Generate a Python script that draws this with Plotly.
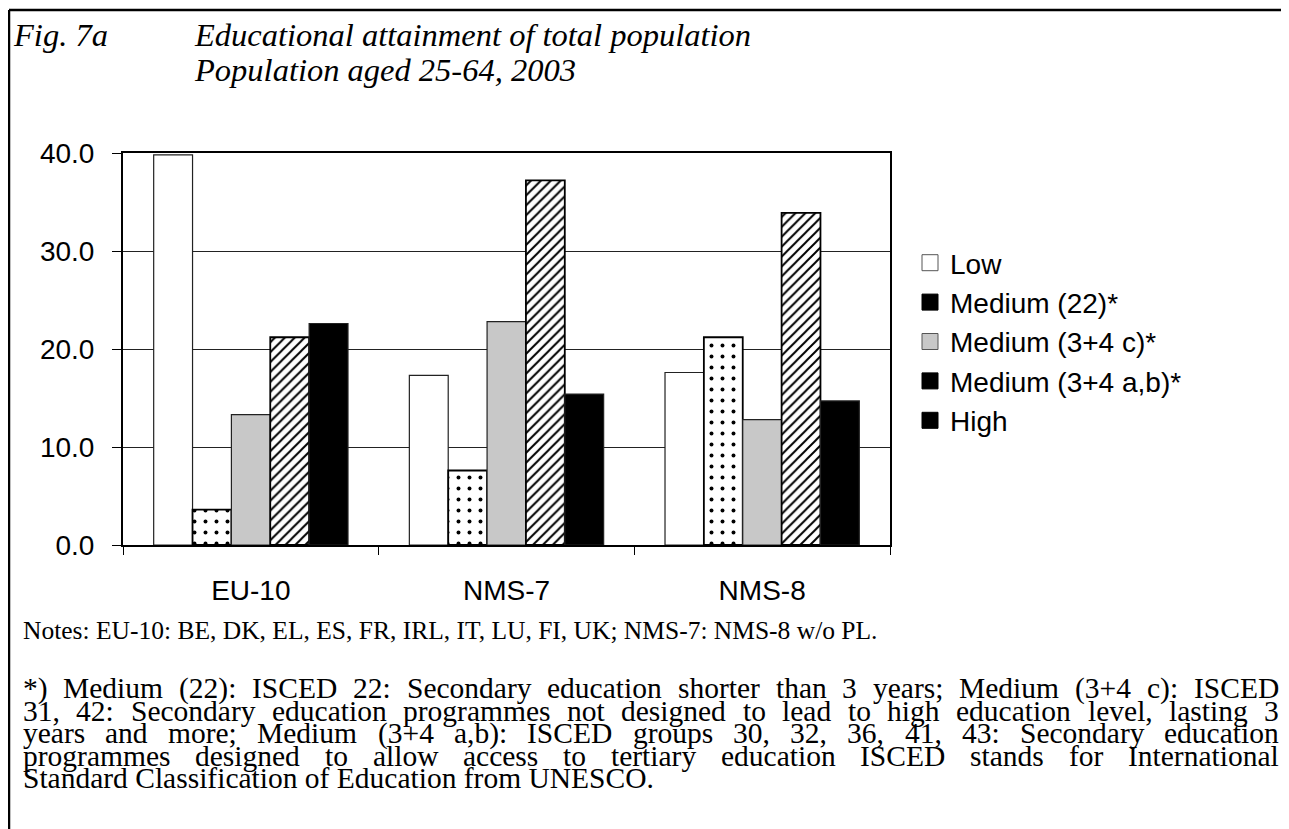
import plotly.graph_objects as go

# data
regions = ["EU-10", "NMS-7", "NMS-8"]
low = [39.8, 17.3, 17.6]
medium_22 = [3.6, 7.6, 21.2]
medium_34c = [13.3, 22.8, 12.8]
medium_34ab = [21.2, 37.2, 33.9]
high = [22.6, 15.4, 14.7]

series_names = ["Low", "Medium (22)*", "Medium (3+4 c)*", "Medium (3+4 a,b)*", "High"]
y_ticks = [0, 10, 20, 30, 40]

notes_text = "Notes: EU-10: BE, DK, EL, ES, FR, IRL, IT, LU, FI, UK; NMS-7: NMS-8 w/o PL."
footnote_lines = [
    "*) Medium (22): ISCED 22: Secondary education shorter than 3 years; Medium (3+4 c): ISCED",
    "31, 42: Secondary education programmes not designed to lead to high education level, lasting 3",
    "years and more; Medium (3+4 a,b): ISCED groups 30, 32, 36, 41, 43: Secondary education",
    "programmes designed to allow access to tertiary education ISCED stands for International",
    "Standard Classification of Education from UNESCO.",
]

# the page body adds an 8px margin, so page coordinates are shifted by OFF
OFF = 8
W, H = 1289 - OFF, 829 - OFF
ML, MR, MT, MB = 123 - OFF, 399, 153 - OFF, 284


def px_x(px):
    return (px - OFF - ML) / (W - ML - MR)


def px_y(py):
    return (H - MB - (py - OFF)) / (H - MT - MB)


# Times / Liberation Serif advance widths (1/1000 em), used to justify the footnote
TIMES = {" ": 250, ",": 250, ".": 250, ":": 278, ";": 278, "(": 333, ")": 333,
         "*": 500, "+": 564, "-": 333, "/": 278,
         "a": 444, "b": 500, "c": 444, "d": 500, "e": 444, "f": 333, "g": 500,
         "h": 500, "i": 278, "j": 278, "k": 500, "l": 278, "m": 778, "n": 500,
         "o": 500, "p": 500, "q": 500, "r": 333, "s": 389, "t": 278, "u": 500,
         "v": 500, "w": 722, "x": 500, "y": 500, "z": 444,
         "A": 722, "B": 667, "C": 667, "D": 722, "E": 611, "F": 556, "G": 722,
         "H": 722, "I": 333, "J": 389, "K": 722, "L": 611, "M": 889, "N": 722,
         "O": 722, "P": 556, "Q": 722, "R": 667, "S": 556, "T": 611, "U": 722,
         "V": 722, "W": 944, "X": 722, "Y": 722, "Z": 611}


def text_width(s, size):
    return sum(TIMES.get(c, 500) for c in s) / 1000 * size


fig = go.Figure()

bar_line = dict(color="#222222", width=1.2)
fig.add_trace(go.Bar(x=regions, y=low, name=series_names[0], showlegend=False,
                     marker=dict(color="white", line=bar_line)))
fig.add_trace(go.Bar(x=regions, y=medium_22, name=series_names[1], showlegend=False,
                     marker=dict(color="white", line=dict(color="black", width=1.8),
                                 pattern=dict(shape=".", fgcolor="black", bgcolor="white",
                                              size=11, solidity=0.1, fillmode="replace"))))
fig.add_trace(go.Bar(x=regions, y=medium_34c, name=series_names[2], showlegend=False,
                     marker=dict(color="#c8c8c8", line=bar_line)))
fig.add_trace(go.Bar(x=regions, y=medium_34ab, name=series_names[3], showlegend=False,
                     marker=dict(color="white", line=dict(color="black", width=1.8),
                                 pattern=dict(shape="/", fgcolor="black", bgcolor="white",
                                              size=7, solidity=0.28, fillmode="replace"))))
fig.add_trace(go.Bar(x=regions, y=high, name=series_names[4], showlegend=False,
                     marker=dict(color="black", line=bar_line)))

# legend keys drawn as plain squares, as in the original
legend_fill = ["white", "black", "#c8c8c8", "black", "black"]
legend_edge = ["#555555", "black", "#555555", "black", "black"]
for name, fc, ec in zip(series_names, legend_fill, legend_edge):
    fig.add_trace(go.Scatter(x=[None], y=[None], mode="markers", name=name,
                             legendgroup=name,
                             marker=dict(symbol="square", size=16, color=fc,
                                         line=dict(color=ec, width=1))))

axis_font = dict(family="Liberation Sans, Arial", size=28, color="black")

fig.update_layout(
    width=W,
    height=H,
    margin=dict(l=ML, r=MR, t=MT, b=MB, autoexpand=False),
    paper_bgcolor="white",
    plot_bgcolor="white",
    barmode="group",
    bargap=0.24,
    bargroupgap=0,
    font=axis_font,
    legend=dict(x=px_x(910), y=px_y(238), xanchor="left", yanchor="top",
                font=axis_font, tracegroupgap=0, itemwidth=30,
                bgcolor="rgba(0,0,0,0)"),
    xaxis=dict(showline=True, linecolor="black", linewidth=1.5, mirror=True,
               ticks="outside", tickson="boundaries", ticklen=8, tickcolor="black",
               tickfont=axis_font, ticklabelstandoff=20, showgrid=False),
    yaxis=dict(range=[0, 40], tickvals=y_ticks, tickformat=".1f",
               showline=True, linecolor="black", linewidth=2, mirror=True,
               ticks="outside", ticklen=9, tickcolor="black", tickfont=axis_font,
               ticklabelstandoff=12,
               showgrid=True, gridcolor="#222222", gridwidth=1, zeroline=False),
)

title_font = dict(family="Liberation Serif, Times New Roman", size=32.5, color="black",
                  style="italic")
notes_font = dict(family="Liberation Serif, Times New Roman", size=25.5, color="black")
foot_size = 29.5
foot_font = dict(family="Liberation Serif, Times New Roman", size=foot_size, color="black")

annotations = [
    dict(text="Fig. 7a", x=px_x(12), y=px_y(35), font=title_font),
    dict(text="Educational attainment of total population", x=px_x(193), y=px_y(35),
         font=title_font),
    dict(text="Population aged 25-64, 2003", x=px_x(193), y=px_y(70), font=title_font),
    dict(text=notes_text, x=px_x(22), y=px_y(630), font=notes_font),
]

# justified footnote: every line but the last is spread from x=22 to x=1278
left, right = 22, 1278
for i, line in enumerate(footnote_lines):
    y = px_y(688 + 22.5 * i)
    words = line.split(" ")
    if i == len(footnote_lines) - 1:
        annotations.append(dict(text=line, x=px_x(left), y=y, font=foot_font))
        continue
    widths = [text_width(w, foot_size) for w in words]
    gap = (right - left - sum(widths)) / (len(words) - 1)
    x = left
    for w, ww in zip(words, widths):
        annotations.append(dict(text=w, x=px_x(x), y=y, font=foot_font))
        x += ww + gap

for a in annotations:
    a.update(xref="paper", yref="paper", xanchor="left", yanchor="middle",
             showarrow=False, borderpad=0)
fig.update_layout(annotations=annotations)

# outer frame (only top and left edges are visible in the original)
fig.add_shape(type="line", xref="paper", yref="paper", x0=px_x(9), x1=px_x(1300),
              y0=px_y(10), y1=px_y(10), line=dict(color="black", width=2.5))
fig.add_shape(type="line", xref="paper", yref="paper", x0=px_x(9), x1=px_x(9),
              y0=px_y(10), y1=px_y(840), line=dict(color="black", width=2.5))

fig.write_html("out.html")
